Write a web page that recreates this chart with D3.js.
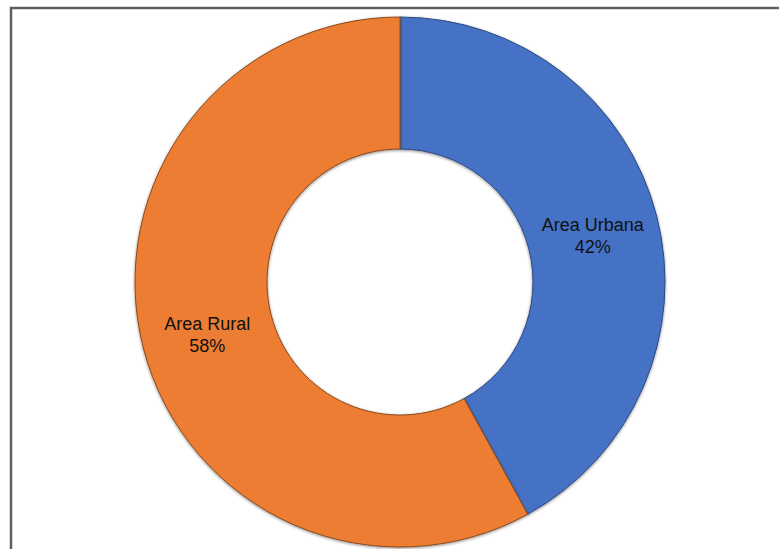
<!DOCTYPE html>
<html><head><meta charset="utf-8">
<script src="https://cdn.jsdelivr.net/npm/d3@7"></script>
<style>html,body{margin:0;padding:0;background:#fff;}svg{display:block;}</style>
</head><body>
<script>
const categories = ["Area Urbana", "Area Rural"];
const values = [42, 58];
const colors = ["#4472C4", "#ED7D31"];
const strokes = ["#2c4a80", "#8a4a1c"];

const W = 779, H = 549;
const svg = d3.select("body").append("svg").attr("width", W).attr("height", H);
const defs = svg.append("defs");
const f = defs.append("filter").attr("id", "sh").attr("x", "-20%").attr("y", "-20%").attr("width", "140%").attr("height", "140%");
f.append("feDropShadow").attr("dx", 0).attr("dy", 1).attr("stdDeviation", 1.5).attr("flood-color", "#000").attr("flood-opacity", 0.45);

// chart area border
svg.append("rect").attr("x", 11).attr("y", 8).attr("width", 800).attr("height", 600)
  .attr("fill", "#fff").attr("stroke", "#5f5f5f").attr("stroke-width", 2.5);

const cx = 400, cy = 282, R = 265, r = 133;
const pie = d3.pie().sort(null).value(d => d);
const arcs = pie(values);
const arc = d3.arc().innerRadius(r).outerRadius(R);
const labelArc = d3.arc().innerRadius((R + r) / 2).outerRadius((R + r) / 2);

const g = svg.append("g").attr("transform", `translate(${cx},${cy})`);
g.selectAll("path").data(arcs).join("path")
  .attr("d", arc)
  .attr("fill", (d, i) => colors[i])
  .attr("stroke", (d, i) => strokes[i])
  .attr("stroke-width", 1)
  .attr("filter", "url(#sh)");

const total = d3.sum(values);
const lab = g.selectAll("text.lbl").data(arcs).join("text")
  .attr("class", "lbl")
  .attr("transform", d => { const c = labelArc.centroid(d); return `translate(${c[0]},${c[1]})`; })
  .attr("text-anchor", "middle")
  .attr("font-family", "Liberation Sans, Arial, sans-serif")
  .attr("font-size", 18)
  .attr("fill", "#111");
lab.append("tspan").attr("x", 0).attr("dy", "-0.08em").text((d, i) => categories[i]);
lab.append("tspan").attr("x", 0).attr("dy", "1.2em").text(d => Math.round(d.value / total * 100) + "%");
</script>
</body></html>
